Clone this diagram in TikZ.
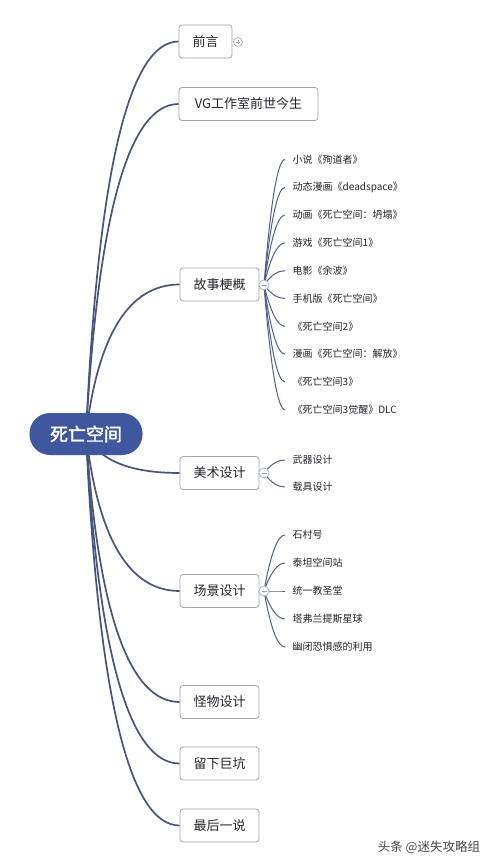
\documentclass[tikz,border=0pt]{standalone}
\usepackage{fontspec}
\setmainfont{Noto Sans CJK SC}
\newfontfamily\cjkbold{Noto Sans CJK SC}[FakeBold=2]
\usetikzlibrary{calc,backgrounds}
\definecolor{rootblue}{RGB}{62,87,158}
\definecolor{linecol}{RGB}{72,84,128}
\definecolor{sublinecol}{RGB}{80,95,145}
\definecolor{boxborder}{RGB}{160,164,178}
\definecolor{textcol}{RGB}{35,35,45}
\definecolor{knobcol}{RGB}{160,163,175}
\definecolor{wmcol}{RGB}{70,70,70}
\newcommand\mmcurve[4]{%
  \draw[#1] let \p1=(#2), \p2=(#3) in (\p1) .. controls ($(\p1)!0.6667!(\x1+#4,\y2)$) and ($(\p2)!0.6667!(\x1+#4,\y2)$) .. (\p2);}
\tikzset{
  rootnode/.style={fill=rootblue, text=white, rounded corners=20.5pt, minimum width=113pt, minimum height=42pt, inner sep=0pt, font=\cjkbold\fontsize{18}{18}\selectfont},
  box/.style={draw=boxborder, fill=white, rounded corners=3pt, line width=0.8pt, minimum height=33pt, inner sep=0pt, text=textcol, font=\fontsize{13}{13}\selectfont},
  childtext/.style={anchor=west, inner xsep=7.5pt, inner ysep=1pt, text=textcol, font=\fontsize{10}{10}\selectfont},
  mainline/.style={draw=linecol, line width=1.7pt},
  subline/.style={draw=sublinecol, line width=1pt},
  knob/.style={circle, draw=knobcol, fill=white, line width=0.6pt, minimum size=10pt, inner sep=0pt,
    path picture={\draw[knobcol, line width=0.6pt] ([xshift=2.5pt]path picture bounding box.west) -- ([xshift=-2.5pt]path picture bounding box.east);}},
  knobplus/.style={knob, minimum size=9pt,
    path picture={\draw[knobcol, line width=0.6pt] ([xshift=2.2pt]path picture bounding box.west) -- ([xshift=-2.2pt]path picture bounding box.east)
      ([yshift=-2.2pt]path picture bounding box.north) -- ([yshift=2.2pt]path picture bounding box.south);}},
}
\begin{document}
\begin{tikzpicture}[x=1pt,y=-1pt]
\useasboundingbox (0,0) rectangle (492,864);
% root
\node[rootnode] (root) at (86,434) {死亡空间};
% main boxes
\node[box, minimum width=53pt] (b1) at (205.5,41.5) {前言};
\node[box, minimum width=139pt] (b2) at (248.5,104) {VG工作室前世今生};
\node[box, minimum width=79pt] (b3) at (219.5,284.5) {故事梗概};
\node[box, minimum width=79pt] (b4) at (219.5,473) {美术设计};
\node[box, minimum width=79pt] (b5) at (219.5,591) {场景设计};
\node[box, minimum width=79pt] (b6) at (219.5,702) {怪物设计};
\node[box, minimum width=79pt] (b7) at (219.5,763.5) {留下巨坑};
\node[box, minimum width=79pt] (b8) at (219.5,825.5) {最后一说};
% knobs
\node[knobplus] (k1) at (238,42) {};
\node[knob] (k3) at (264,285) {};
\node[knob] (k4) at (264,473) {};
\node[knob] (k5) at (264,591) {};
% children of 故事梗概
\node[childtext] (c1) at (285,159.5) {小说《殉道者》};
\node[childtext] (c2) at (285,187.3) {动态漫画《deadspace》};
\node[childtext] (c3) at (285,215.1) {动画《死亡空间：坍塌》};
\node[childtext] (c4) at (285,242.9) {游戏《死亡空间1》};
\node[childtext] (c5) at (285,270.7) {电影《余波》};
\node[childtext] (c6) at (285,298.5) {手机版《死亡空间》};
\node[childtext] (c7) at (285,326.3) {《死亡空间2》};
\node[childtext] (c8) at (285,354.1) {漫画《死亡空间：解放》};
\node[childtext] (c9) at (285,381.9) {《死亡空间3》};
\node[childtext] (c10) at (285,409.7) {《死亡空间3觉醒》DLC};
% children of 美术设计
\node[childtext] (d1) at (285,460) {武器设计};
\node[childtext] (d2) at (285,487) {载具设计};
% children of 场景设计
\node[childtext] (e1) at (285,535) {石村号};
\node[childtext] (e2) at (285,563) {泰坦空间站};
\node[childtext] (e3) at (285,591) {统一教圣堂};
\node[childtext] (e4) at (285,619) {塔弗兰提斯星球};
\node[childtext] (e5) at (285,647) {幽闭恐惧感的利用};
% watermark
\node[text=wmcol, font=\fontsize{12.5}{12.5}\selectfont] (wm) at (429,847) {头条 @迷失攻略组};
\begin{pgfonlayer}{background}
\fill[white] (0,0) rectangle (492,864);
\foreach \b in {b1,b2,b3,b4,b5,b6,b7,b8}{\mmcurve{mainline}{root.center}{\b.west}{18pt}}
\foreach \c in {c1,c2,c3,c4,c5,c6,c7,c8,c9,c10}{\mmcurve{subline}{k3.center}{\c.west}{10pt}}
\foreach \c in {d1,d2}{\mmcurve{subline}{k4.center}{\c.west}{10pt}}
\foreach \c in {e1,e2,e3,e4,e5}{\mmcurve{subline}{k5.center}{\c.west}{10pt}}
\end{pgfonlayer}
\end{tikzpicture}
\end{document}
